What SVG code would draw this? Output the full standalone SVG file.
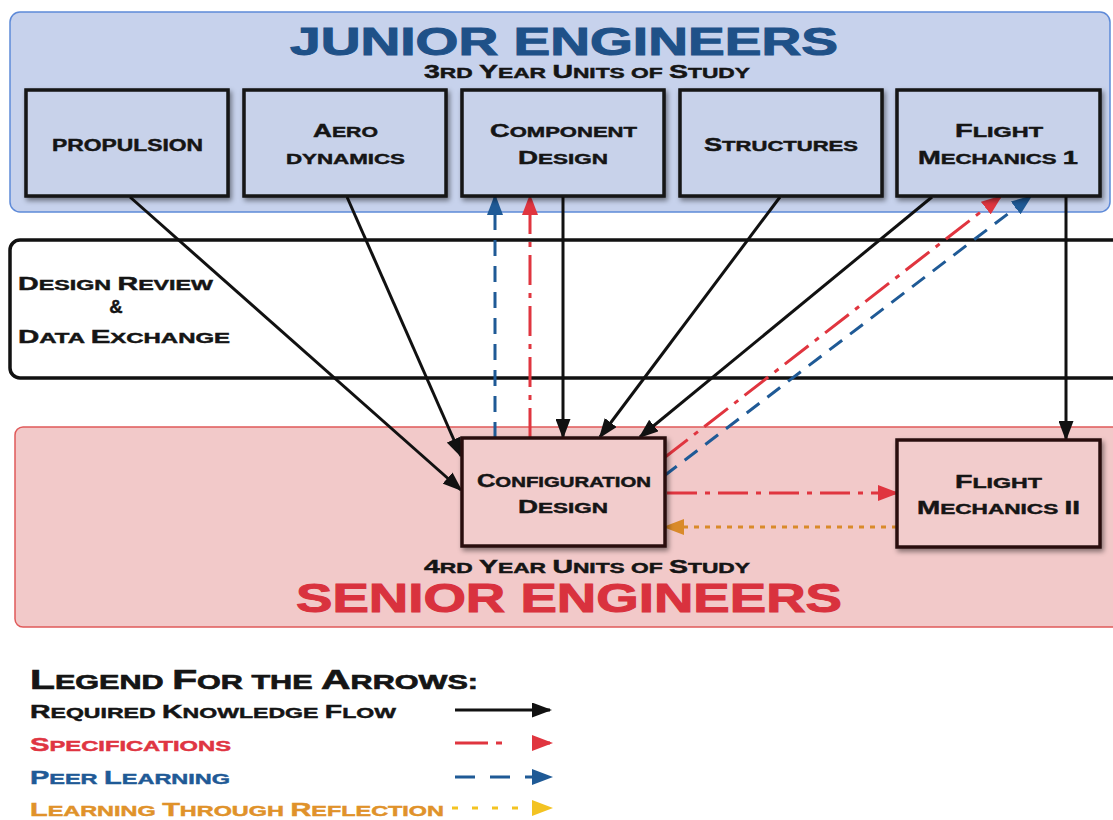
<svg xmlns="http://www.w3.org/2000/svg" width="1113" height="820" viewBox="0 0 1113 820">
<defs>
<style>
text{font-family:"Liberation Sans",Arial,sans-serif;font-weight:bold;fill:#151515;stroke:#151515;stroke-width:0.45}
.L{font-size:18.5px}.s{font-size:15px}.p{font-size:16.5px}
.L2{font-size:17.5px}.s2{font-size:14px}
.L3{font-size:28px}.s3{font-size:21px}
.jt{font-size:39px;fill:#1f5188;stroke:#1f5188;stroke-width:1}
.st{font-size:41px;fill:#d9323e;stroke:#d9323e;stroke-width:1}
.cn{fill:none;stroke-width:3}
.k{stroke:#111}
.r{stroke:#e0353f;stroke-dasharray:30 8 5 8}
.bl{stroke:#1f5a96;stroke-dasharray:16 10}
.o{stroke:#d98a2a;stroke-dasharray:5 6}
.jb{fill:#c8d2ea;stroke:#151515;stroke-width:3.5}
.sb{fill:#f2cccc;stroke:#2a1010;stroke-width:3.5}
</style>
<filter id="sh" x="-10%" y="-10%" width="130%" height="140%"><feDropShadow dx="2" dy="3" stdDeviation="2.5" flood-color="#000" flood-opacity="0.45"/></filter>
<marker id="ak" markerUnits="userSpaceOnUse" markerWidth="21" markerHeight="15" refX="18" refY="7.5" orient="auto"><path d="M0,0 L20,7.5 L0,15 z" fill="#111"/></marker>
<marker id="ar" markerUnits="userSpaceOnUse" markerWidth="21" markerHeight="16" refX="18" refY="8" orient="auto"><path d="M0,0 L21,8 L0,16 z" fill="#e0353f"/></marker>
<marker id="ab" markerUnits="userSpaceOnUse" markerWidth="21" markerHeight="16" refX="18" refY="8" orient="auto"><path d="M0,0 L21,8 L0,16 z" fill="#1f5a96"/></marker>
<marker id="ao" markerUnits="userSpaceOnUse" markerWidth="21" markerHeight="16" refX="18" refY="8" orient="auto"><path d="M0,0 L21,8 L0,16 z" fill="#d98a2a"/></marker>
<marker id="ay" markerUnits="userSpaceOnUse" markerWidth="21" markerHeight="16" refX="18" refY="8" orient="auto"><path d="M0,0 L21,8 L0,16 z" fill="#f3c322"/></marker>
</defs>
<rect width="1113" height="820" fill="#fff"/>

<g id="junior-panel">
<rect x="10" y="12" width="1100" height="200" rx="10" fill="#c7d2ec" stroke="#5e8ad8" stroke-width="1.5"/>
<text class="jt" x="290" y="55" textLength="548" lengthAdjust="spacingAndGlyphs">JUNIOR ENGINEERS</text>
<text x="424" y="78" textLength="326" lengthAdjust="spacingAndGlyphs"><tspan class="L2">3</tspan><tspan class="s2">RD </tspan><tspan class="L2">Y</tspan><tspan class="s2">EAR </tspan><tspan class="L2">U</tspan><tspan class="s2">NITS OF </tspan><tspan class="L2">S</tspan><tspan class="s2">TUDY</tspan></text>
</g>

<g id="design-review">
<rect x="10" y="240" width="1115" height="138" rx="10" fill="#fff" stroke="#111" stroke-width="3.5"/>
<text x="18" y="290" textLength="195" lengthAdjust="spacingAndGlyphs"><tspan class="L">D</tspan><tspan class="s">ESIGN </tspan><tspan class="L">R</tspan><tspan class="s">EVIEW</tspan></text>
<text x="116" y="313" text-anchor="middle" class="L">&amp;</text>
<text x="18" y="343" textLength="212" lengthAdjust="spacingAndGlyphs"><tspan class="L">D</tspan><tspan class="s">ATA </tspan><tspan class="L">E</tspan><tspan class="s">XCHANGE</tspan></text>
</g>

<g id="senior-panel">
<rect x="15" y="427" width="1110" height="200" rx="8" fill="#f2c9c9" stroke="#e05a5a" stroke-width="1.5"/>
<text x="424" y="573" textLength="326" lengthAdjust="spacingAndGlyphs"><tspan class="L2">4</tspan><tspan class="s2">RD </tspan><tspan class="L2">Y</tspan><tspan class="s2">EAR </tspan><tspan class="L2">U</tspan><tspan class="s2">NITS OF </tspan><tspan class="L2">S</tspan><tspan class="s2">TUDY</tspan></text>
<text class="st" x="296" y="612" textLength="546" lengthAdjust="spacingAndGlyphs">SENIOR ENGINEERS</text>
</g>

<g id="connectors">
<line class="cn k" x1="130" y1="197" x2="461" y2="490" marker-end="url(#ak)"/>
<line class="cn k" x1="347" y1="197" x2="461" y2="456" marker-end="url(#ak)"/>
<line class="cn k" x1="563" y1="197" x2="563" y2="437" marker-end="url(#ak)"/>
<line class="cn k" x1="780" y1="197" x2="600" y2="437" marker-end="url(#ak)"/>
<line class="cn k" x1="932" y1="197" x2="640" y2="437" marker-end="url(#ak)"/>
<line class="cn k" x1="1066" y1="197" x2="1066" y2="439" marker-end="url(#ak)"/>
<line class="cn bl" x1="495" y1="438" x2="495" y2="197" marker-end="url(#ab)"/>
<line class="cn r" x1="530" y1="438" x2="530" y2="197" marker-end="url(#ar)"/>
<line class="cn r" x1="664" y1="458" x2="1000" y2="197" marker-end="url(#ar)"/>
<line class="cn bl" x1="664" y1="476" x2="1030" y2="197" marker-end="url(#ab)"/>
<line class="cn r" x1="667" y1="493" x2="896" y2="493" marker-end="url(#ar)"/>
<line class="cn o" x1="897" y1="527" x2="666" y2="527" marker-end="url(#ao)"/>
</g>

<g id="propulsion">
<rect class="jb" x="26" y="90" width="202" height="106" filter="url(#sh)"/>
<text x="52" y="151" textLength="151" lengthAdjust="spacingAndGlyphs"><tspan class="p">PROPULSION</tspan></text>
</g>
<g id="aerodynamics">
<rect class="jb" x="244" y="90" width="202" height="106" filter="url(#sh)"/>
<text x="313" y="137" textLength="65" lengthAdjust="spacingAndGlyphs"><tspan class="L">A</tspan><tspan class="s">ERO</tspan></text>
<text x="286" y="164" textLength="119" lengthAdjust="spacingAndGlyphs"><tspan class="s">DYNAMICS</tspan></text>
</g>
<g id="component-design">
<rect class="jb" x="462" y="90" width="202" height="106" filter="url(#sh)"/>
<text x="490" y="137" textLength="147" lengthAdjust="spacingAndGlyphs"><tspan class="L">C</tspan><tspan class="s">OMPONENT</tspan></text>
<text x="518" y="164" textLength="90" lengthAdjust="spacingAndGlyphs"><tspan class="L">D</tspan><tspan class="s">ESIGN</tspan></text>
</g>
<g id="structures">
<rect class="jb" x="680" y="90" width="202" height="106" filter="url(#sh)"/>
<text x="704" y="151" textLength="154" lengthAdjust="spacingAndGlyphs"><tspan class="L">S</tspan><tspan class="s">TRUCTURES</tspan></text>
</g>
<g id="flight-mechanics-1">
<rect class="jb" x="897" y="90" width="203" height="106" filter="url(#sh)"/>
<text x="955" y="137" textLength="88" lengthAdjust="spacingAndGlyphs"><tspan class="L">F</tspan><tspan class="s">LIGHT</tspan></text>
<text x="918" y="164" textLength="160" lengthAdjust="spacingAndGlyphs"><tspan class="L">M</tspan><tspan class="s">ECHANICS </tspan><tspan class="L">1</tspan></text>
</g>

<g id="configuration-design">
<rect class="sb" x="462" y="438" width="203" height="108" filter="url(#sh)"/>
<text x="477" y="487" textLength="174" lengthAdjust="spacingAndGlyphs"><tspan class="L2">C</tspan><tspan class="s2">ONFIGURATION</tspan></text>
<text x="518" y="513" textLength="90" lengthAdjust="spacingAndGlyphs"><tspan class="L">D</tspan><tspan class="s">ESIGN</tspan></text>
</g>
<g id="flight-mechanics-2">
<rect class="sb" x="897" y="440" width="203" height="107" filter="url(#sh)"/>
<text x="955" y="488" textLength="87" lengthAdjust="spacingAndGlyphs"><tspan class="L">F</tspan><tspan class="s">LIGHT</tspan></text>
<text x="917" y="514" textLength="163" lengthAdjust="spacingAndGlyphs"><tspan class="L">M</tspan><tspan class="s">ECHANICS </tspan><tspan class="L">II</tspan></text>
</g>

<g id="legend">
<text x="30" y="689" textLength="448" lengthAdjust="spacingAndGlyphs" style="stroke-width:0.7"><tspan class="L3">L</tspan><tspan class="s3">EGEND </tspan><tspan class="L3">F</tspan><tspan class="s3">OR THE </tspan><tspan class="L3">A</tspan><tspan class="s3">RROWS:</tspan></text>
<text x="30" y="718" textLength="366" lengthAdjust="spacingAndGlyphs"><tspan class="L">R</tspan><tspan class="s">EQUIRED </tspan><tspan class="L">K</tspan><tspan class="s">NOWLEDGE </tspan><tspan class="L">F</tspan><tspan class="s">LOW</tspan></text>
<text x="30" y="751" textLength="201" lengthAdjust="spacingAndGlyphs" style="fill:#df3542;stroke:#df3542"><tspan class="L">S</tspan><tspan class="s">PECIFICATIONS</tspan></text>
<text x="30" y="784" textLength="200" lengthAdjust="spacingAndGlyphs" style="fill:#1f5a96;stroke:#1f5a96"><tspan class="L">P</tspan><tspan class="s">EER </tspan><tspan class="L">L</tspan><tspan class="s">EARNING</tspan></text>
<text x="30" y="816" textLength="414" lengthAdjust="spacingAndGlyphs" style="fill:#e0922a;stroke:#e0922a"><tspan class="L">L</tspan><tspan class="s">EARNING </tspan><tspan class="L">T</tspan><tspan class="s">HROUGH </tspan><tspan class="L">R</tspan><tspan class="s">EFLECTION</tspan></text>
<line class="cn k" x1="455" y1="710" x2="550" y2="710" marker-end="url(#ak)"/>
<line class="cn" stroke="#e0353f" stroke-dasharray="33 8 6 40" x1="455" y1="743" x2="550" y2="743" marker-end="url(#ar)"/>
<line class="cn" stroke="#1f5a96" stroke-dasharray="20 15" x1="455" y1="777" x2="550" y2="777" marker-end="url(#ab)"/>
<line class="cn" stroke="#f3c322" stroke-dasharray="6 14" x1="452" y1="808" x2="550" y2="808" marker-end="url(#ay)"/>
</g>
</svg>
